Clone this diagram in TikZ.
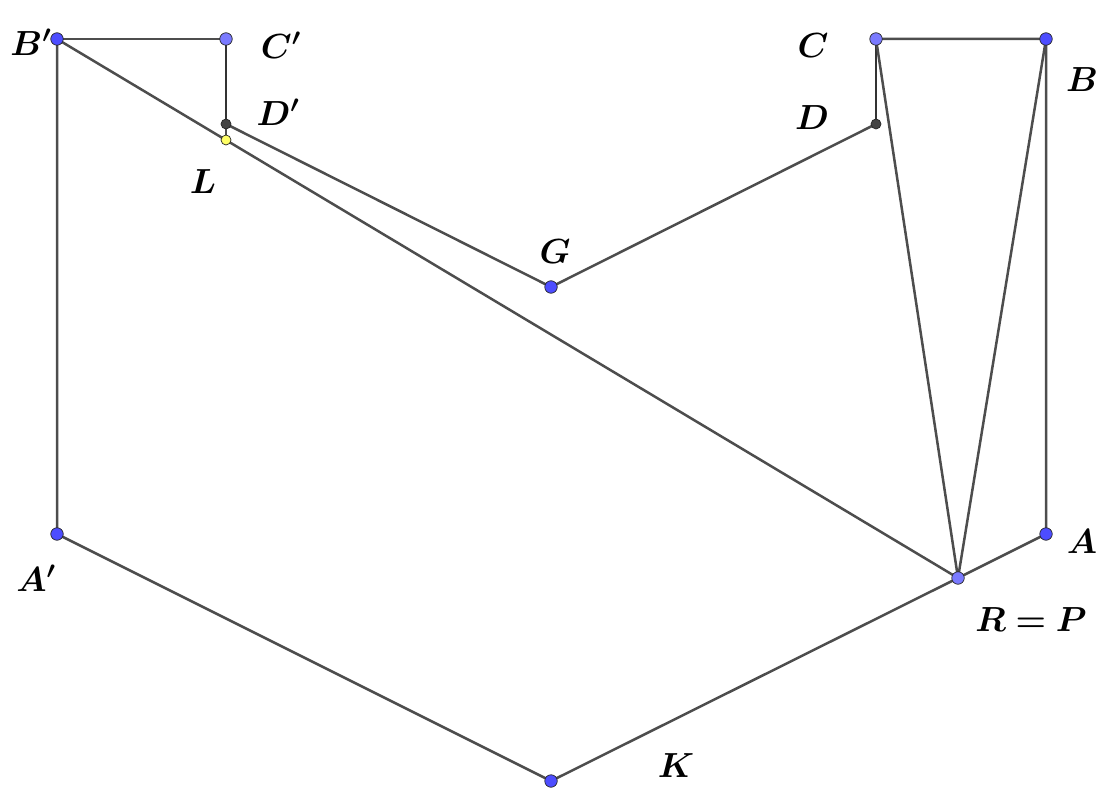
\documentclass[tikz,border=0pt]{standalone}
\usepackage{amsmath,bm}
\definecolor{ptblue}{RGB}{77,77,255}
\definecolor{ptlight}{RGB}{122,122,255}
\definecolor{ptgray}{RGB}{68,68,68}
\definecolor{ptyellow}{RGB}{255,255,102}
\definecolor{segcol}{RGB}{77,77,77}
\newcommand{\ptlab}[1]{\scalebox{1.68}{$\bm{#1}$}}
\tikzset{
  pt/.style={circle,draw=black!85,line width=0.7pt,inner sep=0pt,minimum size=12.5pt,fill=ptblue},
  ptl/.style={pt,fill=ptlight},
  ptd/.style={pt,fill=ptgray,minimum size=10pt},
  pty/.style={pt,fill=ptyellow,minimum size=10pt},
  seg/.style={color=segcol,line width=2.5pt},
  lbl/.style={inner sep=0pt,font=\huge}
}
\begin{document}
\begin{tikzpicture}[x=1pt,y=1pt,yscale=-1]
\useasboundingbox (0,0) rectangle (1116,799);

%Segments
\coordinate (b1) at (57,39);
\coordinate (c1) at (226,39);
\coordinate (d1) at (226,124);
\coordinate (l) at (226,140);
\coordinate (g) at (551,287);
\coordinate (d) at (876,124);
\coordinate (c) at (876,39);
\coordinate (b) at (1046,39);
\coordinate (a) at (1046,534);
\coordinate (r) at (958,578);
\coordinate (k) at (551,781);
\coordinate (a1) at (57,534);

\draw [seg] (b1) -- (c1);
\draw [seg,color=black!80] (c1) -- (d1);
\draw [seg] (d1) -- (l);
\draw [seg] (d1) -- (g) -- (d);
\draw [seg,color=black!80] (d) -- (c);
\draw [seg] (c) -- (b) -- (a) -- (r) -- (k) -- (a1) -- (b1);
\draw [seg] (b1) -- (r);
\draw [seg] (c) -- (r);
\draw [seg] (b) -- (r);

%Points
\node [pt] (nb1) at (b1) {};
\node [ptl] (nc1) at (c1) {};
\node [ptd] (nd1) at (d1) {};
\node [pty] (nl) at (l) {};
\node [pt] (ng) at (g) {};
\node [ptd] (nd) at (d) {};
\node [ptl] (nc) at (c) {};
\node [pt] (nb) at (b) {};
\node [pt] (na) at (a) {};
\node [ptl] (nr) at (r) {};
\node [pt] (nk) at (k) {};
\node [pt] (na1) at (a1) {};

%Labels
\node [lbl] (tb1) at (31,42) {\ptlab{B'}};
\node [lbl] (tc1) at (281,45) {\ptlab{C'}};
\node [lbl] (td1) at (278,112) {\ptlab{D'}};
\node [lbl] (tl) at (203,182) {\ptlab{L}};
\node [lbl] (tg) at (555,252) {\ptlab{G}};
\node [lbl] (tc) at (813,46) {\ptlab{C}};
\node [lbl] (td) at (812,118) {\ptlab{D}};
\node [lbl] (tb) at (1082,80) {\ptlab{B}};
\node [lbl] (ta) at (1082,542) {\ptlab{A}};
\node [lbl] (ta1) at (36,578) {\ptlab{A'}};
\node [lbl] (tr) at (1031,620) {\ptlab{R=P}};
\node [lbl] (tk) at (676,766) {\ptlab{K}};
\end{tikzpicture}
\end{document}
